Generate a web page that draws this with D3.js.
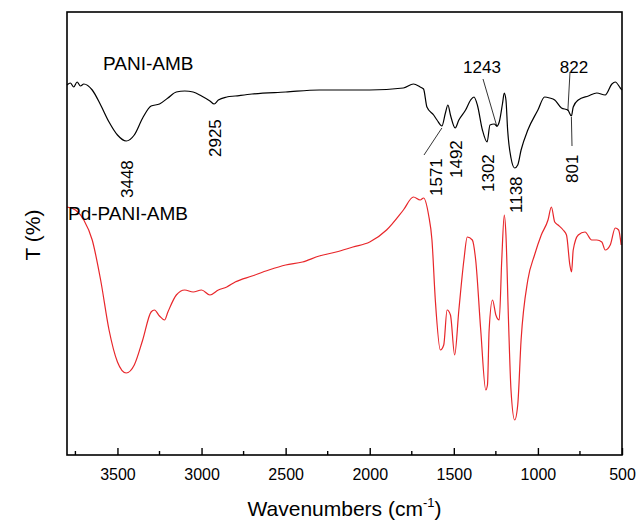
<!DOCTYPE html>
<html>
<head>
<meta charset="utf-8">
<script src="https://cdn.jsdelivr.net/npm/d3@7"></script>
<style>
  body { margin: 0; background: #fff; }
  text { font-family: Arial, "Liberation Sans", sans-serif; }
</style>
</head>
<body>
<div id="chart-area"></div>
<script>
// x axis ticks
const xTicks = [3500, 3000, 2500, 2000, 1500, 1000, 500]
const xMinorTicks = [3750, 3250, 2750, 2250, 1750, 1250, 750]

// PANI-AMB spectrum (wavenumber, arbitrary T)
const paniWave = [3800,3780,3760,3740,3720,3700,3650,3600,3550,3500,3448,3400,3350,3300,3250,3200,3150,3100,3050,3000,2950,2925,2900,2850,2800,2700,2500,2300,2000,1800,1740,1700,1680,1660,1620,1600,1571,1550,1535,1520,1492,1470,1430,1400,1380,1360,1330,1302,1285,1260,1243,1230,1210,1200,1190,1180,1160,1138,1120,1100,1060,1000,960,930,900,860,822,801,790,760,700,650,600,560,540,510,500]
const paniT = [370,372,368,373,369,371,365,350,333,320,314,320,337,349,351,357,363,364,363,359,354,351,355,358,359,361,363,365,365,367,371,368,366,348,340,335,329,342,350,340,327,335,345,355,358,350,325,313,330,331,329,333,352,362,355,325,297,287,290,305,325,345,358,357,355,347,345,339,348,355,359,362,360,371,373,367,365]

// Pd-PANI-AMB spectrum
const pdWave = [3800,3750,3700,3650,3600,3550,3500,3448,3400,3350,3300,3280,3250,3220,3200,3150,3100,3050,3000,2950,2900,2850,2800,2700,2600,2500,2400,2300,2200,2100,2000,1900,1800,1740,1700,1680,1650,1630,1610,1580,1560,1540,1520,1495,1470,1440,1420,1390,1370,1340,1310,1300,1290,1270,1250,1230,1215,1200,1190,1175,1160,1138,1120,1100,1060,1020,980,940,920,900,880,850,830,810,800,790,760,720,680,650,620,600,570,540,520,505]
const pdT = [248,245,235,215,175,125,93,82,90,115,143,145,139,135,143,160,165,163,165,160,165,168,173,179,185,190,193,199,203,208,213,225,245,258,255,257,240,215,155,105,110,145,140,100,145,195,218,215,195,125,65,70,125,155,140,135,195,240,220,135,65,35,50,115,175,200,220,235,248,233,230,225,220,190,183,205,220,223,215,215,213,205,210,227,225,210]

// peak labels
const peakText = ["3448", "2925", "1571", "1492", "1302", "1138", "801"]
const peakPos = [3448, 2925, 1610, 1492, 1302, 1138, 801]

const W = 638, H = 523
const MARGIN = { LEFT: 67, RIGHT: 16, TOP: 12, BOTTOM: 68 }

const svg = d3.select("#chart-area").append("svg")
  .attr("width", W).attr("height", H)

const x = d3.scaleLinear().domain([3800, 500]).range([MARGIN.LEFT, W - MARGIN.RIGHT])
const y = d3.scaleLinear().domain([0, 443]).range([H - MARGIN.BOTTOM, MARGIN.TOP])
const bottom = H - MARGIN.BOTTOM

const line = d3.line().x(d => x(d[0])).y(d => y(d[1])).curve(d3.curveMonotoneX)

svg.append("path")
  .datum(d3.zip(paniWave, paniT).reverse())
  .attr("d", line).attr("fill", "none").attr("stroke", "#000").attr("stroke-width", 1.2)

svg.append("path")
  .datum(d3.zip(pdWave, pdT).reverse())
  .attr("d", line).attr("fill", "none").attr("stroke", "#e8262a").attr("stroke-width", 1.2)

// frame
svg.append("rect")
  .attr("x", MARGIN.LEFT).attr("y", MARGIN.TOP)
  .attr("width", W - MARGIN.RIGHT - MARGIN.LEFT).attr("height", bottom - MARGIN.TOP)
  .attr("fill", "none").attr("stroke", "#000").attr("stroke-width", 1.6)

// x axis, ticks inward
const xAxis = svg.append("g").attr("transform", `translate(0,${bottom})`)
  .call(d3.axisBottom(x).tickValues(xTicks).tickFormat(d3.format("d")).tickSizeInner(-7).tickSizeOuter(0).tickPadding(14))
xAxis.select(".domain").remove()
xAxis.selectAll("line").attr("stroke-width", 1.4)
xAxis.selectAll("text").attr("font-size", 16).attr("fill", "#000")
  .style("font-family", "Arial, 'Liberation Sans', sans-serif")
svg.append("g").attr("transform", `translate(0,${bottom})`)
  .selectAll("line").data(xMinorTicks).join("line")
  .attr("x1", d => x(d)).attr("x2", d => x(d)).attr("y1", 0).attr("y2", -4)
  .attr("stroke", "#000").attr("stroke-width", 1.4)

const title = svg.append("text").attr("x", (MARGIN.LEFT + W - MARGIN.RIGHT) / 2).attr("y", 516)
  .attr("text-anchor", "middle").attr("font-size", 21)
title.append("tspan").text("Wavenumbers (cm")
title.append("tspan").attr("dy", -9).attr("font-size", 13).text("-1")
title.append("tspan").attr("dy", 9).text(")")

svg.append("text").attr("transform", "translate(40,235) rotate(-90)")
  .attr("text-anchor", "middle").attr("font-size", 21).text("T (%)")

svg.append("text").attr("x", 103).attr("y", 70).attr("font-size", 19).text("PANI-AMB")
svg.append("text").attr("x", 68).attr("y", 220).attr("font-size", 19).text("Pd-PANI-AMB")

// rotated peak labels: bottom y of text
const peakBottom = [198, 157, 196, 178, 192, 213, 183]
svg.selectAll(".peak").data(peakText).join("text")
  .attr("class", "peak")
  .attr("transform", (d, i) => `translate(${x(peakPos[i]) + 7},${peakBottom[i]}) rotate(-90)`)
  .attr("font-size", 17).text(d => d)

// leader lines and horizontal labels
const leader = (w1, v1, px, py) => svg.append("line")
  .attr("x1", x(w1)).attr("y1", y(v1)).attr("x2", px).attr("y2", py)
  .attr("stroke", "#000").attr("stroke-width", 0.8)
leader(1571, 327, 424, 155)
leader(1243, 328, 483, 79)
leader(822, 344, 570, 72)
leader(801, 338, 572, 146)
svg.append("text").attr("x", 482).attr("y", 73).attr("text-anchor", "middle").attr("font-size", 17).text("1243")
svg.append("text").attr("x", 574).attr("y", 73).attr("text-anchor", "middle").attr("font-size", 17).text("822")
</script>
</body>
</html>
